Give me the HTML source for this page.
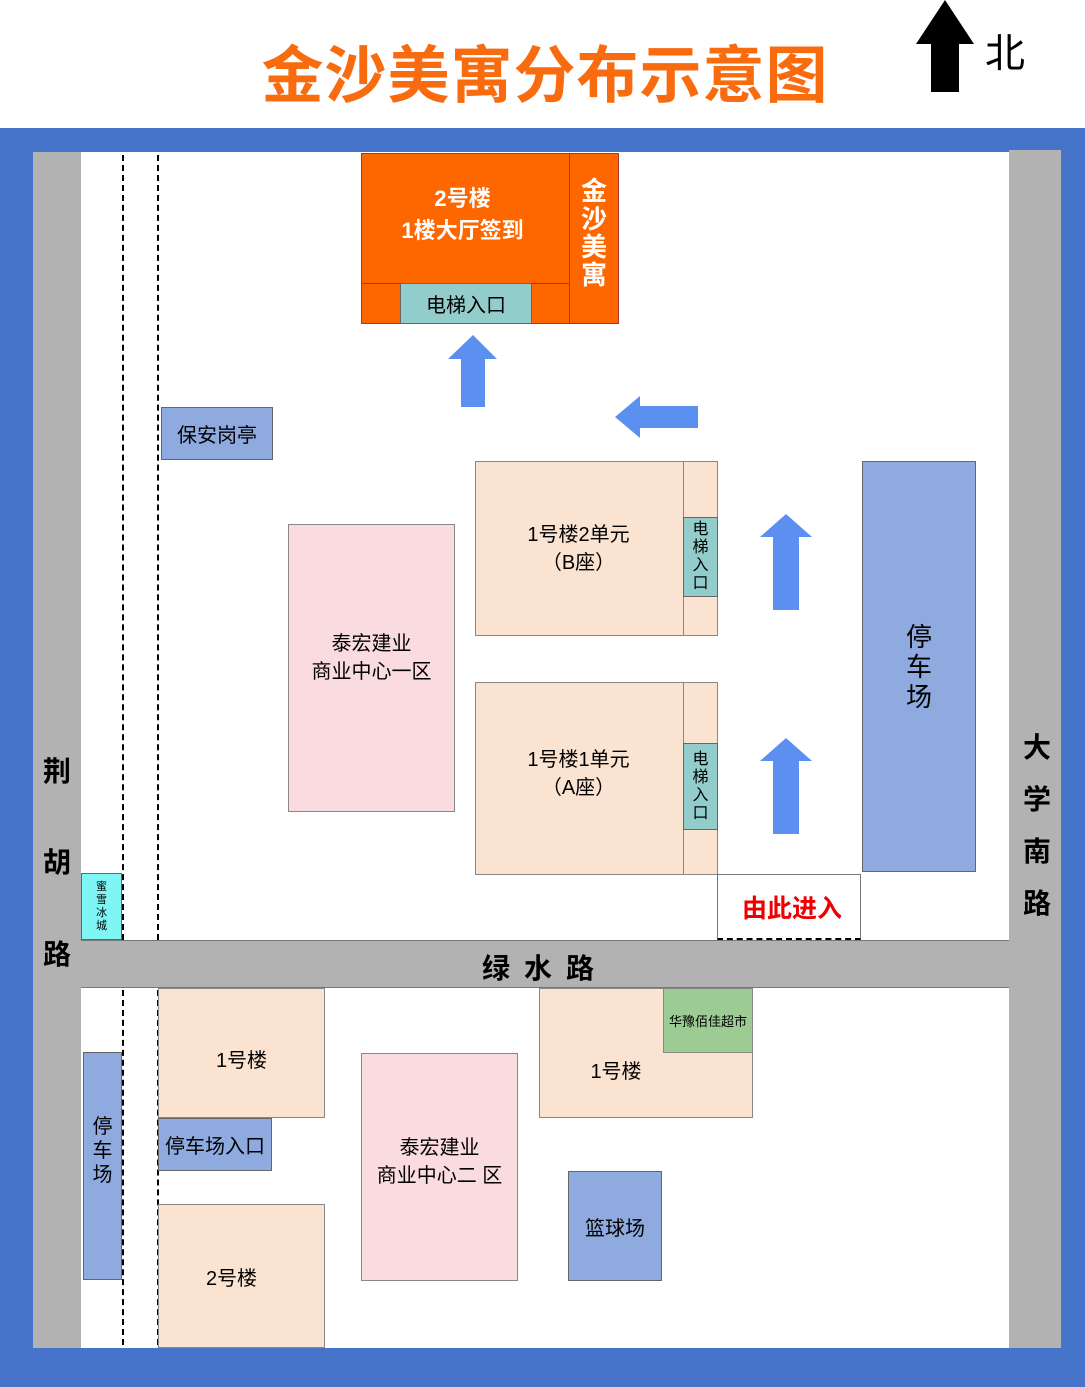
<!DOCTYPE html><html><head><meta charset="utf-8"><style>
body{margin:0;width:1085px;height:1387px;position:relative;background:#fff;font-family:"Liberation Sans","Noto Sans CJK SC",sans-serif;overflow:hidden}
.a{position:absolute;box-sizing:border-box;display:flex;align-items:center;justify-content:center;text-align:center}
.g{background:#b2b2b2}
.pk{background:#f9dbe0;border:1px solid #888}
.bg{background:#fbe3d2;border:1px solid #888}
.bl{background:#8eaadf;border:1px solid #666}
.tl{background:#92cdcc;border:1px solid #666}
.rl{position:absolute;font-size:28px;font-weight:bold;width:40px;text-align:center;line-height:30px}
</style></head><body>
<div class="a" style="left:250px;top:30px;width:590px;height:80px;font-size:62px;font-weight:bold;color:#f86b0e;letter-spacing:1px">金沙美寓分布示意图</div>
<svg style="position:absolute;left:915px;top:0" width="60" height="95"><polygon points="30,0 59,44 44,44 44,92 16,92 16,44 1,44" fill="#000"/></svg>
<div class="a" style="left:980px;top:25px;width:50px;height:50px;font-size:40px">北</div>
<div class="a" style="left:0;top:128px;width:1085px;height:1259px;background:#4674ca"></div>
<div class="a" style="left:33px;top:152px;width:1028px;height:1196px;background:#fff"></div>
<div class="a g" style="left:33px;top:152px;width:48px;height:1196px"></div>
<div class="rl" style="left:37px;top:757px">荆</div>
<div class="rl" style="left:37px;top:848px">胡</div>
<div class="rl" style="left:37px;top:940px">路</div>
<div class="a g" style="left:1009px;top:150px;width:52px;height:1198px"></div>
<div class="rl" style="left:1017px;top:733px">大</div>
<div class="rl" style="left:1017px;top:785px">学</div>
<div class="rl" style="left:1017px;top:837px">南</div>
<div class="rl" style="left:1017px;top:889px">路</div>
<div class="a g" style="left:81px;top:940px;width:928px;height:48px;font-size:28px;font-weight:bold;letter-spacing:14px;border-top:1px solid #777;border-bottom:1px solid #777;padding-top:6px">绿水路</div>
<div style="position:absolute;left:122px;top:155px;height:785px;border-left:2px dashed #000"></div>
<div style="position:absolute;left:157px;top:155px;height:785px;border-left:2px dashed #000"></div>
<div style="position:absolute;left:122px;top:990px;height:355px;border-left:2px dashed #000"></div>
<div style="position:absolute;left:157px;top:990px;height:355px;border-left:2px dashed #000"></div>
<div class="a" style="left:361px;top:153px;width:258px;height:171px;background:#fe6600;border:1px solid #a33"></div>
<div class="a" style="left:361px;top:150px;width:203px;height:130px;color:#fff;font-weight:bold;font-size:22px;line-height:32px">2号楼<br>1楼大厅签到</div>
<div style="position:absolute;left:569px;top:153px;height:171px;border-left:1px solid #a33"></div>
<div style="position:absolute;left:361px;top:283px;width:208px;border-top:1px solid #a33"></div>
<div class="a" style="left:569px;top:158px;width:50px;height:150px;color:#fff;font-weight:bold;font-size:26px;line-height:28px">金<br>沙<br>美<br>寓</div>
<div class="a tl" style="left:400px;top:283px;width:132px;height:41px;font-size:20px">电梯入口</div>
<div class="a bl" style="left:161px;top:407px;width:112px;height:53px;font-size:20px">保安岗亭</div>
<div class="a pk" style="left:288px;top:524px;width:167px;height:288px;font-size:20px;line-height:28px;padding-bottom:20px">泰宏建业<br>商业中心一区</div>
<div class="a bg" style="left:475px;top:461px;width:243px;height:175px;font-size:20px;line-height:28px;padding-right:36px;padding-bottom:0">1号楼2单元<br>（B座）</div>
<div style="position:absolute;left:683px;top:461px;height:175px;border-left:1px solid #888"></div>
<div class="a tl" style="left:683px;top:517px;width:35px;height:80px;font-size:16px;line-height:18px">电<br>梯<br>入<br>口</div>
<div class="a bg" style="left:475px;top:682px;width:243px;height:193px;font-size:20px;line-height:28px;padding-right:36px;padding-bottom:10px">1号楼1单元<br>（A座）</div>
<div style="position:absolute;left:683px;top:682px;height:193px;border-left:1px solid #888"></div>
<div class="a tl" style="left:683px;top:743px;width:35px;height:87px;font-size:16px;line-height:18px">电<br>梯<br>入<br>口</div>
<div class="a bl" style="left:862px;top:461px;width:114px;height:411px;font-size:26px;line-height:30px">停<br>车<br>场</div>
<div class="a" style="left:717px;top:874px;width:144px;height:66px;border:1px solid #777;border-bottom:2px dashed #000;color:#e00;font-weight:bold;font-size:25px;padding-left:6px">由此进入</div>
<div class="a" style="left:81px;top:873px;width:41px;height:67px;background:#7ff5f4;border:1px solid #666;font-size:11px;line-height:13px">蜜<br>雪<br>冰<br>城</div>
<svg style="position:absolute;left:0;top:0" width="1085" height="1387">
<polygon fill="#5b8ff0" points="473,335 497,359 485,359 485,407 461,407 461,359 448,359"/>
<polygon fill="#5b8ff0" points="786,514 812,537 799,537 799,610 773,610 773,537 760,537"/>
<polygon fill="#5b8ff0" points="786,738 812,761 799,761 799,834 773,834 773,761 760,761"/>
<polygon fill="#5b8ff0" points="615,417 640,396 640,406 698,406 698,428 640,428 640,438"/>
</svg>
<div class="a bg" style="left:158px;top:988px;width:167px;height:130px;font-size:20px;padding-top:10px">1号楼</div>
<div class="a bl" style="left:158px;top:1118px;width:114px;height:53px;font-size:20px">停车场入口</div>
<div class="a bg" style="left:158px;top:1204px;width:167px;height:144px;font-size:20px;padding-right:20px">2号楼</div>
<div class="a bl" style="left:83px;top:1052px;width:39px;height:228px;font-size:20px;line-height:24px;padding-bottom:30px">停<br>车<br>场</div>
<div class="a pk" style="left:361px;top:1053px;width:157px;height:228px;font-size:20px;line-height:28px;padding-bottom:10px">泰宏建业<br>商业中心二 区</div>
<div class="a bg" style="left:539px;top:988px;width:214px;height:130px;font-size:20px;padding-right:60px;padding-top:32px">1号楼</div>
<div class="a" style="left:663px;top:988px;width:90px;height:65px;background:#9ccb94;border:1px solid #888;font-size:13px">华豫佰佳超市</div>
<div class="a bl" style="left:568px;top:1171px;width:94px;height:110px;font-size:20px">篮球场</div>
</body></html>
